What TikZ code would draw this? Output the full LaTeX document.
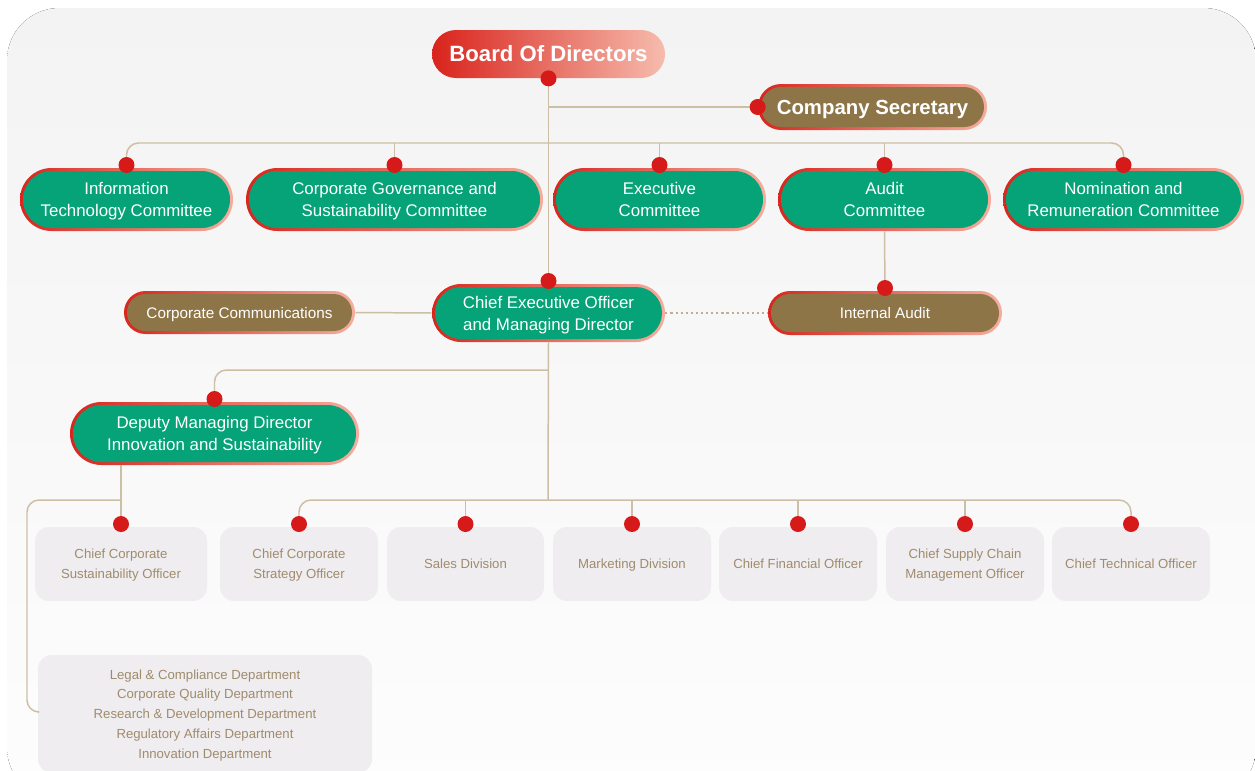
\documentclass[tikz,border=0pt]{standalone}
\usepackage{fontspec}
\setmainfont{Liberation Sans}
\usetikzlibrary{shapes.misc}

\definecolor{comgreen}{HTML}{06A378}
\definecolor{unitbrown}{HTML}{8E7548}
\definecolor{dotred}{HTML}{D61A1A}
\definecolor{rimred}{HTML}{D8261D}
\definecolor{rimpink}{HTML}{F4AE9E}
\definecolor{bodred}{HTML}{D9231C}
\definecolor{bodpink}{HTML}{F6BCAD}
\definecolor{linktan}{HTML}{CDBFA5}
\definecolor{dottan}{HTML}{BFAE90}
\definecolor{boxgray}{HTML}{EFEDF0}
\definecolor{boxtext}{HTML}{9F8C6B}
\definecolor{bgtop}{HTML}{F3F3F3}
\definecolor{bgbot}{HTML}{FDFDFD}

\tikzset{
  rim/.style={rounded rectangle, left color=rimred, right color=rimpink, inner sep=0pt},
  pillin/.style={rounded rectangle, text=white, align=center, inner sep=0pt, text depth=0pt},
  bigtxt/.style={font=\fontsize{12.6}{15}\selectfont\bfseries},
  sectxt/.style={font=\fontsize{11.6}{14}\selectfont\bfseries},
  midtxt/.style={font=\fontsize{9.6}{12.5}\selectfont},
  smalltxt/.style={font=\fontsize{8.7}{11}\selectfont},
  unit/.style={rectangle, rounded corners=0.28cm, fill=boxgray, text=boxtext, align=center,
    inner sep=0pt, text depth=0pt, minimum height=1.48cm, font=\fontsize{7.5}{11.3}\selectfont},
  dot/.style={circle, fill=dotred, inner sep=0pt, minimum size=0.32cm},
  link/.style={draw=linktan, line width=0.85pt},
}

% name, x, y, width, height, fill, text style, text
\newcommand{\pill}[8]{%
  \node[rim, minimum width=#4*0.02cm, minimum height=#5*0.02cm] (#1) at (#2,#3) {};
  \node[pillin, fill=#6, #7, minimum width=(#4-6)*0.02cm, minimum height=(#5-6)*0.02cm] (#1in) at (#2,#3) {#8};
}

\begin{document}
\begin{tikzpicture}[x=0.02cm, y=-0.02cm]

\useasboundingbox (0,0) rectangle (1255,771);

% backdrop
\fill[top color=bgtop, bottom color=bgbot, rounded corners=1.05cm] (7,8) rectangle (1256,800);

% board and secretary
\node[rounded rectangle, left color=bodred, right color=bodpink, text=white, bigtxt,
  minimum width=233*0.02cm, minimum height=48*0.02cm, inner sep=0pt] (bod) at (548.5,54) {Board Of Directors};
\pill{cs}{872.5}{107}{229}{46}{unitbrown}{sectxt}{Company Secretary}

% committees
\pill{itc}{126.5}{199.5}{213}{63}{comgreen}{midtxt}{Information\\Technology Committee}
\pill{cgc}{394.5}{199.5}{297}{63}{comgreen}{midtxt}{Corporate Governance and\\Sustainability Committee}
\pill{exc}{659.5}{199.5}{213}{63}{comgreen}{midtxt}{Executive\\Committee}
\pill{auc}{884.5}{199.5}{213}{63}{comgreen}{midtxt}{Audit\\Committee}
\pill{nrc}{1123.5}{199.5}{241}{63}{comgreen}{midtxt}{Nomination and\\Remuneration Committee}

% ceo row
\pill{ceo}{548.5}{313}{233}{58}{comgreen}{midtxt}{Chief Executive Officer\\and Managing Director}
\pill{cc}{239.5}{312.5}{231}{43}{unitbrown}{smalltxt}{Corporate Communications}
\pill{ia}{885}{313}{234}{44}{unitbrown}{smalltxt}{Internal Audit}

% deputy
\pill{dmd}{214.5}{433.5}{289}{63}{comgreen}{midtxt}{Deputy Managing Director\\Innovation and Sustainability}

% units
\node[unit, minimum width=172*0.02cm] (ccso) at (121,564) {Chief Corporate\\Sustainability Officer};
\node[unit, minimum width=158*0.02cm] (ccsto) at (299,564) {Chief Corporate\\Strategy Officer};
\node[unit, minimum width=157*0.02cm] (sales) at (465.5,564) {Sales Division};
\node[unit, minimum width=158*0.02cm] (mkt) at (632,564) {Marketing Division};
\node[unit, minimum width=158*0.02cm] (cfo) at (798,564) {Chief Financial Officer};
\node[unit, minimum width=158*0.02cm] (cscmo) at (965,564) {Chief Supply Chain\\Management Officer};
\node[unit, minimum width=158*0.02cm] (cto) at (1131,564) {Chief Technical Officer};
\node[unit, minimum width=334*0.02cm, minimum height=118*0.02cm] (dept) at (205,714)
  {Legal \& Compliance Department\\Corporate Quality Department\\Research \& Development Department\\Regulatory Affairs Department\\Innovation Department};

\coordinate (cbar) at (548,143);
\coordinate (dbar) at (548,370);
\coordinate (ubar) at (548,500);
\coordinate (lft) at (27,712);

% trunk
\draw[link] (bod.south) -- (ceo.north);
\draw[link] (bod.south |- cs.west) -- (cs.west);
\draw[link, rounded corners=0.24cm] (itc.north) |- (cbar) -| (nrc.north);
\foreach \n in {cgc,exc,auc}
  \draw[link] (\n.north) -- (\n.north |- cbar);

% ceo links
\draw[link] (cc.east) -- (ceo.west);
\draw[link] (auc.south) -- (ia.north);
\draw[draw=dottan, line width=1.2pt, dash pattern=on 1.2pt off 1.7pt] (ceo.east) -- (ia.west);
\draw[link] (ceo.south) -- (ubar);
\draw[link, rounded corners=0.24cm] (dbar) -| (dmd.north);

% units
\draw[link, rounded corners=0.24cm] (ccsto.north) |- (ubar) -| (cto.north);
\foreach \n in {sales,mkt,cfo,cscmo}
  \draw[link] (\n.north) -- (\n.north |- ubar);
\draw[link] (dmd.south -| ccso.north) -- (ccso.north);
\draw[link, rounded corners=0.24cm] (ccso.north |- ubar) -| (lft) -- (dept.west |- lft);

% dots
\node[dot] (d-bod) at (bod.south) {};
\node[dot] (d-cs) at (cs.west) {};
\foreach \n in {itc,cgc,exc,auc,nrc,ceo,ia,dmd,ccso,ccsto,sales,mkt,cfo,cscmo,cto}
  \node[dot] (d-\n) at ([yshift=1.5pt]\n.north) {};

\end{tikzpicture}
\end{document}
